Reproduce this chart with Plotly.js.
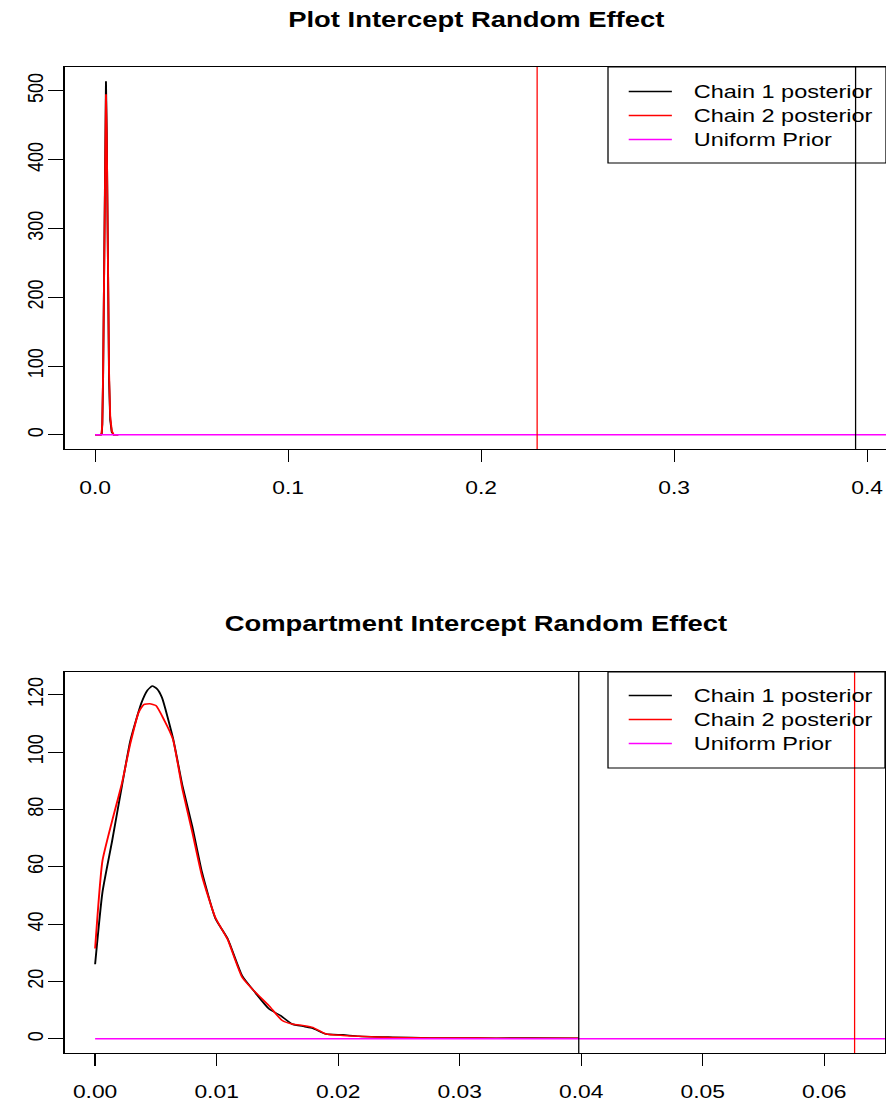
<!DOCTYPE html>
<html><head><meta charset="utf-8">
<script src="https://cdn.plot.ly/plotly-3.0.1.min.js"></script>
<style>
html,body{margin:0;padding:0;overflow:hidden;background:#fff}
#chart{width:698px;height:1103px;transform:scaleX(1.26934);transform-origin:0 0;}
</style>
</head><body><div id="chart"></div>
<script>
// ---------- data ----------
const titleTop = "Plot Intercept Random Effect";
const titleBottom = "Compartment Intercept Random Effect";
const seriesNames = ["Chain 1 posterior", "Chain 2 posterior", "Uniform Prior"];

// Top panel: posterior densities
const topChain1X = [0, 0.0030, 0.0034, 0.0037, 0.0041, 0.0045, 0.0048, 0.0052, 0.0056, 0.0060, 0.0064, 0.0068, 0.0072, 0.0078, 0.0086, 0.0096, 0.0120];
const topChain1Y = [0, 0, 2, 15, 80, 180, 280, 420, 514, 440, 300, 170, 80, 22, 4, 0, 0];
const topChain2X = [0, 0.0030, 0.0034, 0.0037, 0.0041, 0.0045, 0.0048, 0.0052, 0.0056, 0.0060, 0.0064, 0.0068, 0.0072, 0.0078, 0.0086, 0.0096, 0.0120];
const topChain2Y = [0, 0, 3, 18, 85, 185, 285, 415, 495, 435, 305, 180, 90, 27, 6, 0, 0];
const topPriorX = [0, 1];
const topPriorY = [0.01, 0.01];
const topVLines = [0.394, 0.229];          // chain 1, chain 2
const topXTicks = [0, 0.1, 0.2, 0.3, 0.4];
const topYTicks = [0, 100, 200, 300, 400, 500];

// Bottom panel: posterior densities
const botChain1X = [0, 0.0006, 0.0014, 0.0022, 0.0029, 0.0038, 0.0043, 0.0047, 0.0051, 0.0055, 0.0064, 0.0072, 0.0080, 0.0088, 0.0099, 0.0109, 0.0121, 0.0132, 0.0143, 0.0153, 0.0162, 0.0172, 0.0179, 0.0190, 0.0204, 0.0217, 0.0245, 0.0276, 0.0300, 0.0330, 0.0360, 0.0398];
const botChain1Y = [26, 51, 69, 88, 104, 117, 121.5, 123, 122, 119, 105, 88, 74, 58, 42, 35, 22, 16, 10.5, 8, 5.2, 4.3, 3.7, 1.7, 1.4, 0.9, 0.6, 0.35, 0.3, 0.25, 0.3, 0.2];
const botChain2X = [0, 0.0006, 0.0014, 0.0022, 0.0029, 0.0036, 0.0040, 0.0045, 0.0050, 0.0057, 0.0064, 0.0072, 0.0080, 0.0088, 0.0099, 0.0109, 0.0121, 0.0132, 0.0143, 0.0154, 0.0162, 0.0172, 0.0179, 0.0190, 0.0204, 0.0217, 0.0245, 0.0276, 0.0300, 0.0330, 0.0360, 0.0398];
const botChain2Y = [31.5, 62, 76, 89, 103, 114, 116.5, 116.8, 116.2, 111, 104.5, 86.7, 72, 56.7, 42.2, 34.7, 21.5, 16.2, 11.6, 6.4, 5.2, 4.6, 4, 1.7, 1.2, 0.9, 0.5, 0.3, 0.3, 0.25, 0.2, 0.2];
const botPriorX = [0, 1];
const botPriorY = [0.01, 0.01];
const botVLines = [0.0398, 0.0625];        // chain 1, chain 2
const botXTicks = [0, 0.01, 0.02, 0.03, 0.04, 0.05, 0.06];
const botYTicks = [0, 20, 40, 60, 80, 100, 120];

// ---------- style / layout ----------
const colors = ["#000000", "#FF0000", "#FF00FF"];
const FONT = "Liberation Sans, Arial, Helvetica, sans-serif";
const LW = 1.5;

function line(x, y, i, xa, ya, leg, smooth) {
  const ln = {color: colors[i], width: LW};
  if (smooth) { ln.shape = "spline"; ln.smoothing = 0.5; }
  return {x: x, y: y, type: "scatter", mode: "lines",
    name: "\u00A0\u00A0\u2009<span style=\"font-size:18.5px\">" + seriesNames[i] + "</span>",
    line: ln, xaxis: xa, yaxis: ya, legend: leg, hoverinfo: "skip"};
}

const data = [
  line(topChain1X, topChain1Y, 0, "x", "y", "legend", false),
  line(topChain2X, topChain2Y, 1, "x", "y", "legend", false),
  line(topPriorX, topPriorY, 2, "x", "y", "legend", false),
  line(botChain1X, botChain1Y, 0, "x2", "y2", "legend2", true),
  line(botChain2X, botChain2Y, 1, "x2", "y2", "legend2", true),
  line(botPriorX, botPriorY, 2, "x2", "y2", "legend2", false)
];

const topYDom = [(1053 - 449) / 986, 1];
const botYDom = [0, (1053 - 672) / 986];

function xax(range, ticks, fmt, dom, anchor) {
  return {domain: dom, anchor: anchor, range: range, tickvals: ticks, tickformat: fmt,
    showgrid: false, zeroline: false, showline: true, mirror: true, linecolor: "#000", linewidth: 1,
    ticks: "outside", ticklen: 12, tickwidth: 1, tickcolor: "#000", ticklabelstandoff: 10,
    tickfont: {family: FONT, size: 18, color: "#000"}};
}
function yax(range, ticks, dom, anchor, mirror) {
  return {domain: dom, anchor: anchor, range: range, tickvals: ticks,
    showgrid: false, zeroline: false, showline: true, mirror: mirror, linecolor: "#000", linewidth: 1,
    ticks: "outside", ticklen: 12, tickwidth: 1, tickcolor: "#000", tickangle: -90, ticklabelstandoff: -3,
    tickfont: {family: FONT, size: 18, color: "#000"}};
}

const shapes = [];
topVLines.forEach((v, i) => shapes.push({type: "line", xref: "x", yref: "y domain", x0: v, x1: v, y0: 0, y1: 1,
  line: {color: colors[i], width: 1}}));
botVLines.forEach((v, i) => shapes.push({type: "line", xref: "x2", yref: "y2 domain", x0: v, x1: v, y0: 0, y1: 1,
  line: {color: colors[i], width: 1}}));
// legend boxes
shapes.push({type: "rect", xref: "paper", yref: "paper", x0: 0.6615, x1: 1.0, y0: (1053 - 163) / 986, y1: 1,
  line: {color: "#000", width: 1}, fillcolor: "rgba(0,0,0,0)"});
shapes.push({type: "rect", xref: "paper", yref: "paper", x0: 0.6615, x1: 0.99876, y0: (1053 - 768) / 986, y1: (1053 - 672) / 986,
  line: {color: "#000", width: 1}, fillcolor: "rgba(0,0,0,0)"});

const legStyle = {xanchor: "left", yanchor: "top", bgcolor: "rgba(0,0,0,0)", borderwidth: 0,
  font: {family: FONT, size: 16.15, color: "#000"}, itemwidth: 34, tracegroupgap: 0};

const layout = {
  width: 698, height: 1103,
  margin: {l: 51, r: 0, t: 67, b: 50, pad: 0},
  paper_bgcolor: "#fff", plot_bgcolor: "#fff",
  showlegend: true,
  xaxis: xax([-0.01576, 0.40976], topXTicks, ".1f", [0, 1], "y"),
  yaxis: yax([-20.56, 534.56], topYTicks, topYDom, "x", false),
  xaxis2: xax([-0.0025, 0.065], botXTicks, ".2f", [0, 0.99876], "y2"),
  yaxis2: yax([-4.92, 127.9], botYTicks, botYDom, "x2", true),
  legend: Object.assign({x: 0.679, y: (1053 - 74.5) / 986}, legStyle),
  legend2: Object.assign({x: 0.679, y: (1053 - 678.5) / 986}, legStyle),
  shapes: shapes,
  annotations: [
    {text: "<b>" + titleTop + "</b>", xref: "paper", yref: "paper", x: 0.5, y: (1053 - 20) / 986,
      xanchor: "center", yanchor: "middle", showarrow: false, font: {family: FONT, size: 21.6, color: "#000"}},
    {text: "<b>" + titleBottom + "</b>", xref: "paper", yref: "paper", x: 0.5, y: (1053 - 623) / 986,
      xanchor: "center", yanchor: "middle", showarrow: false, font: {family: FONT, size: 21.6, color: "#000"}}
  ]
};

Plotly.newPlot("chart", data, layout, {displayModeBar: false, staticPlot: true});
</script>
</body></html>
